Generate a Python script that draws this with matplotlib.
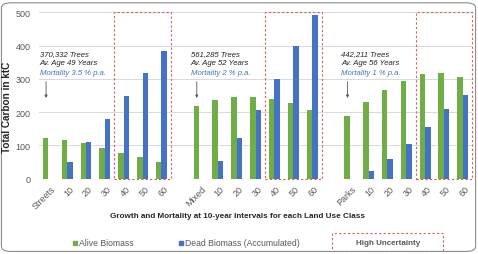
import matplotlib
matplotlib.use("Agg")
import matplotlib.pyplot as plt
import matplotlib.transforms as mtransforms
from matplotlib.patches import FancyBboxPatch, Rectangle
import numpy as np

plt.rcParams['font.family'] = ['Liberation Sans', 'DejaVu Sans']

# slot labels (blank slots separate the land use classes)
labels = ['Streets', '10', '20', '30', '40', '50', '60', '',
          'Mixed', '10', '20', '30', '40', '50', '60', '',
          'Parks', '10', '20', '30', '40', '50', '60']
alive = [121, 116, 106, 92, 78, 64, 50, np.nan,
         217, 236, 247, 247, 240, 227, 207, np.nan,
         187, 229, 266, 295, 314, 319, 305]
dead = [0, 49, 110, 178, 248, 319, 383, np.nan,
        0, 53, 122, 206, 299, 398, 491, np.nan,
        0, 24, 59, 103, 155, 208, 253]

# annotation per class: first slot, trees, age, mortality
ann_slot = [0, 8, 16]
ann_trees = ['370,332 Trees', '561,285 Trees', '442,211 Trees']
ann_age = ['Av. Age 49 Years', 'Av. Age 52 Years', 'Av. Age 56 Years']
ann_mort = ['Mortality 3.5 % p.a.', 'Mortality 2 % p.a.', 'Mortality 1 % p.a.']
# high uncertainty ranges (slot indices)
unc_ranges = [(4, 6), (12, 14), (20, 22)]

green = '#70AD47'
blue = '#4472C4'
red = '#E05A5A'
gray = '#595959'

fig = plt.figure(figsize=(4.78, 2.55), dpi=100)
ax = fig.add_axes([0.0814, 0.2953, 0.9065, 0.6525])

x = np.arange(len(labels))
w = 0.29
ax.bar(x - w, alive, w, align='edge', color=green, zorder=3)
ax.bar(x, dead, w, align='edge', color=blue, zorder=3)

ax.set_xlim(-0.5, len(labels) - 0.5)
ax.set_ylim(0, 500)
ax.set_yticks([0, 100, 200, 300, 400, 500])
ax.yaxis.grid(True, color='#D9D9D9', lw=0.7, zorder=0)
for s in ax.spines.values():
    s.set_visible(False)
ax.tick_params(axis='both', length=0, labelsize=6.5, labelcolor=gray)
ax.tick_params(axis='y', pad=6)
ax.tick_params(axis='x', pad=4)

ax.set_xticks(x)
ax.set_xticklabels(labels, rotation=45, ha='right', rotation_mode='anchor')
offset = mtransforms.ScaledTranslation(2 / 100, 0, fig.dpi_scale_trans)
for lab in ax.get_xticklabels():
    lab.set_transform(lab.get_transform() + offset)

for a, b in unc_ranges:
    ax.add_patch(Rectangle((a - 0.5, 0), b - a + 1, 500, fill=False,
                           ec=red, ls=(0, (2, 2)), lw=0.8, zorder=4, clip_on=False))

for i, s in enumerate(ann_slot):
    tx = s - 0.45
    ax.text(tx, 377, ann_trees[i], fontsize=5.6, style='italic', color='#262626', va='center')
    ax.text(tx, 348, ann_age[i], fontsize=5.6, style='italic', color='#262626', va='center')
    ax.text(tx, 318, ann_mort[i], fontsize=5.6, style='italic', color=blue, va='center')
    ax.annotate('', xy=(s - 0.12, 234), xytext=(s - 0.12, 300),
                arrowprops=dict(arrowstyle='-|>', color='#595959', lw=0.6,
                                mutation_scale=4))

fig.text(6.7 / 478, 1 - 107 / 255, 'Total Carbon in ktC', fontsize=7.2, fontweight='bold',
         color='#262626', rotation=90, ha='center', va='center')
fig.text(237.5 / 478, 1 - 217 / 255,
         'Growth and Mortality at 10-year Intervals for each Land Use Class',
         fontsize=5.9, fontweight='bold', color='#262626', ha='center', va='center')

# legend
ly = 1 - 243.5 / 255
fig.patches.append(Rectangle((72.7 / 478, ly - 2 / 255), 4 / 478, 4 / 255,
                             color=green, transform=fig.transFigure))
fig.text(79 / 478, ly, 'Alive Biomass', fontsize=6.2, color=gray, va='center')
fig.patches.append(Rectangle((179.3 / 478, ly - 2 / 255), 4 / 478, 4 / 255,
                             color=blue, transform=fig.transFigure))
fig.text(185 / 478, ly, 'Dead Biomass (Accumulated)', fontsize=6.2, color=gray, va='center')
fig.patches.append(Rectangle((332 / 478, 1 - 252 / 255), 111 / 478, 18 / 255, fill=False,
                             ec=red, ls=(0, (2, 2)), lw=0.8, transform=fig.transFigure))
fig.text(388 / 478, ly, 'High Uncertainty', fontsize=5.8, color=gray, va='center', ha='center',
         fontweight='bold')

# outer border
fig.patches.append(FancyBboxPatch((0.003, 0.01), 0.992, 0.975,
                                  boxstyle='round,pad=0,rounding_size=0.02',
                                  fill=False, ec='#8c8c8c', lw=0.8, transform=fig.transFigure))

fig.savefig('out.png', dpi=100)
